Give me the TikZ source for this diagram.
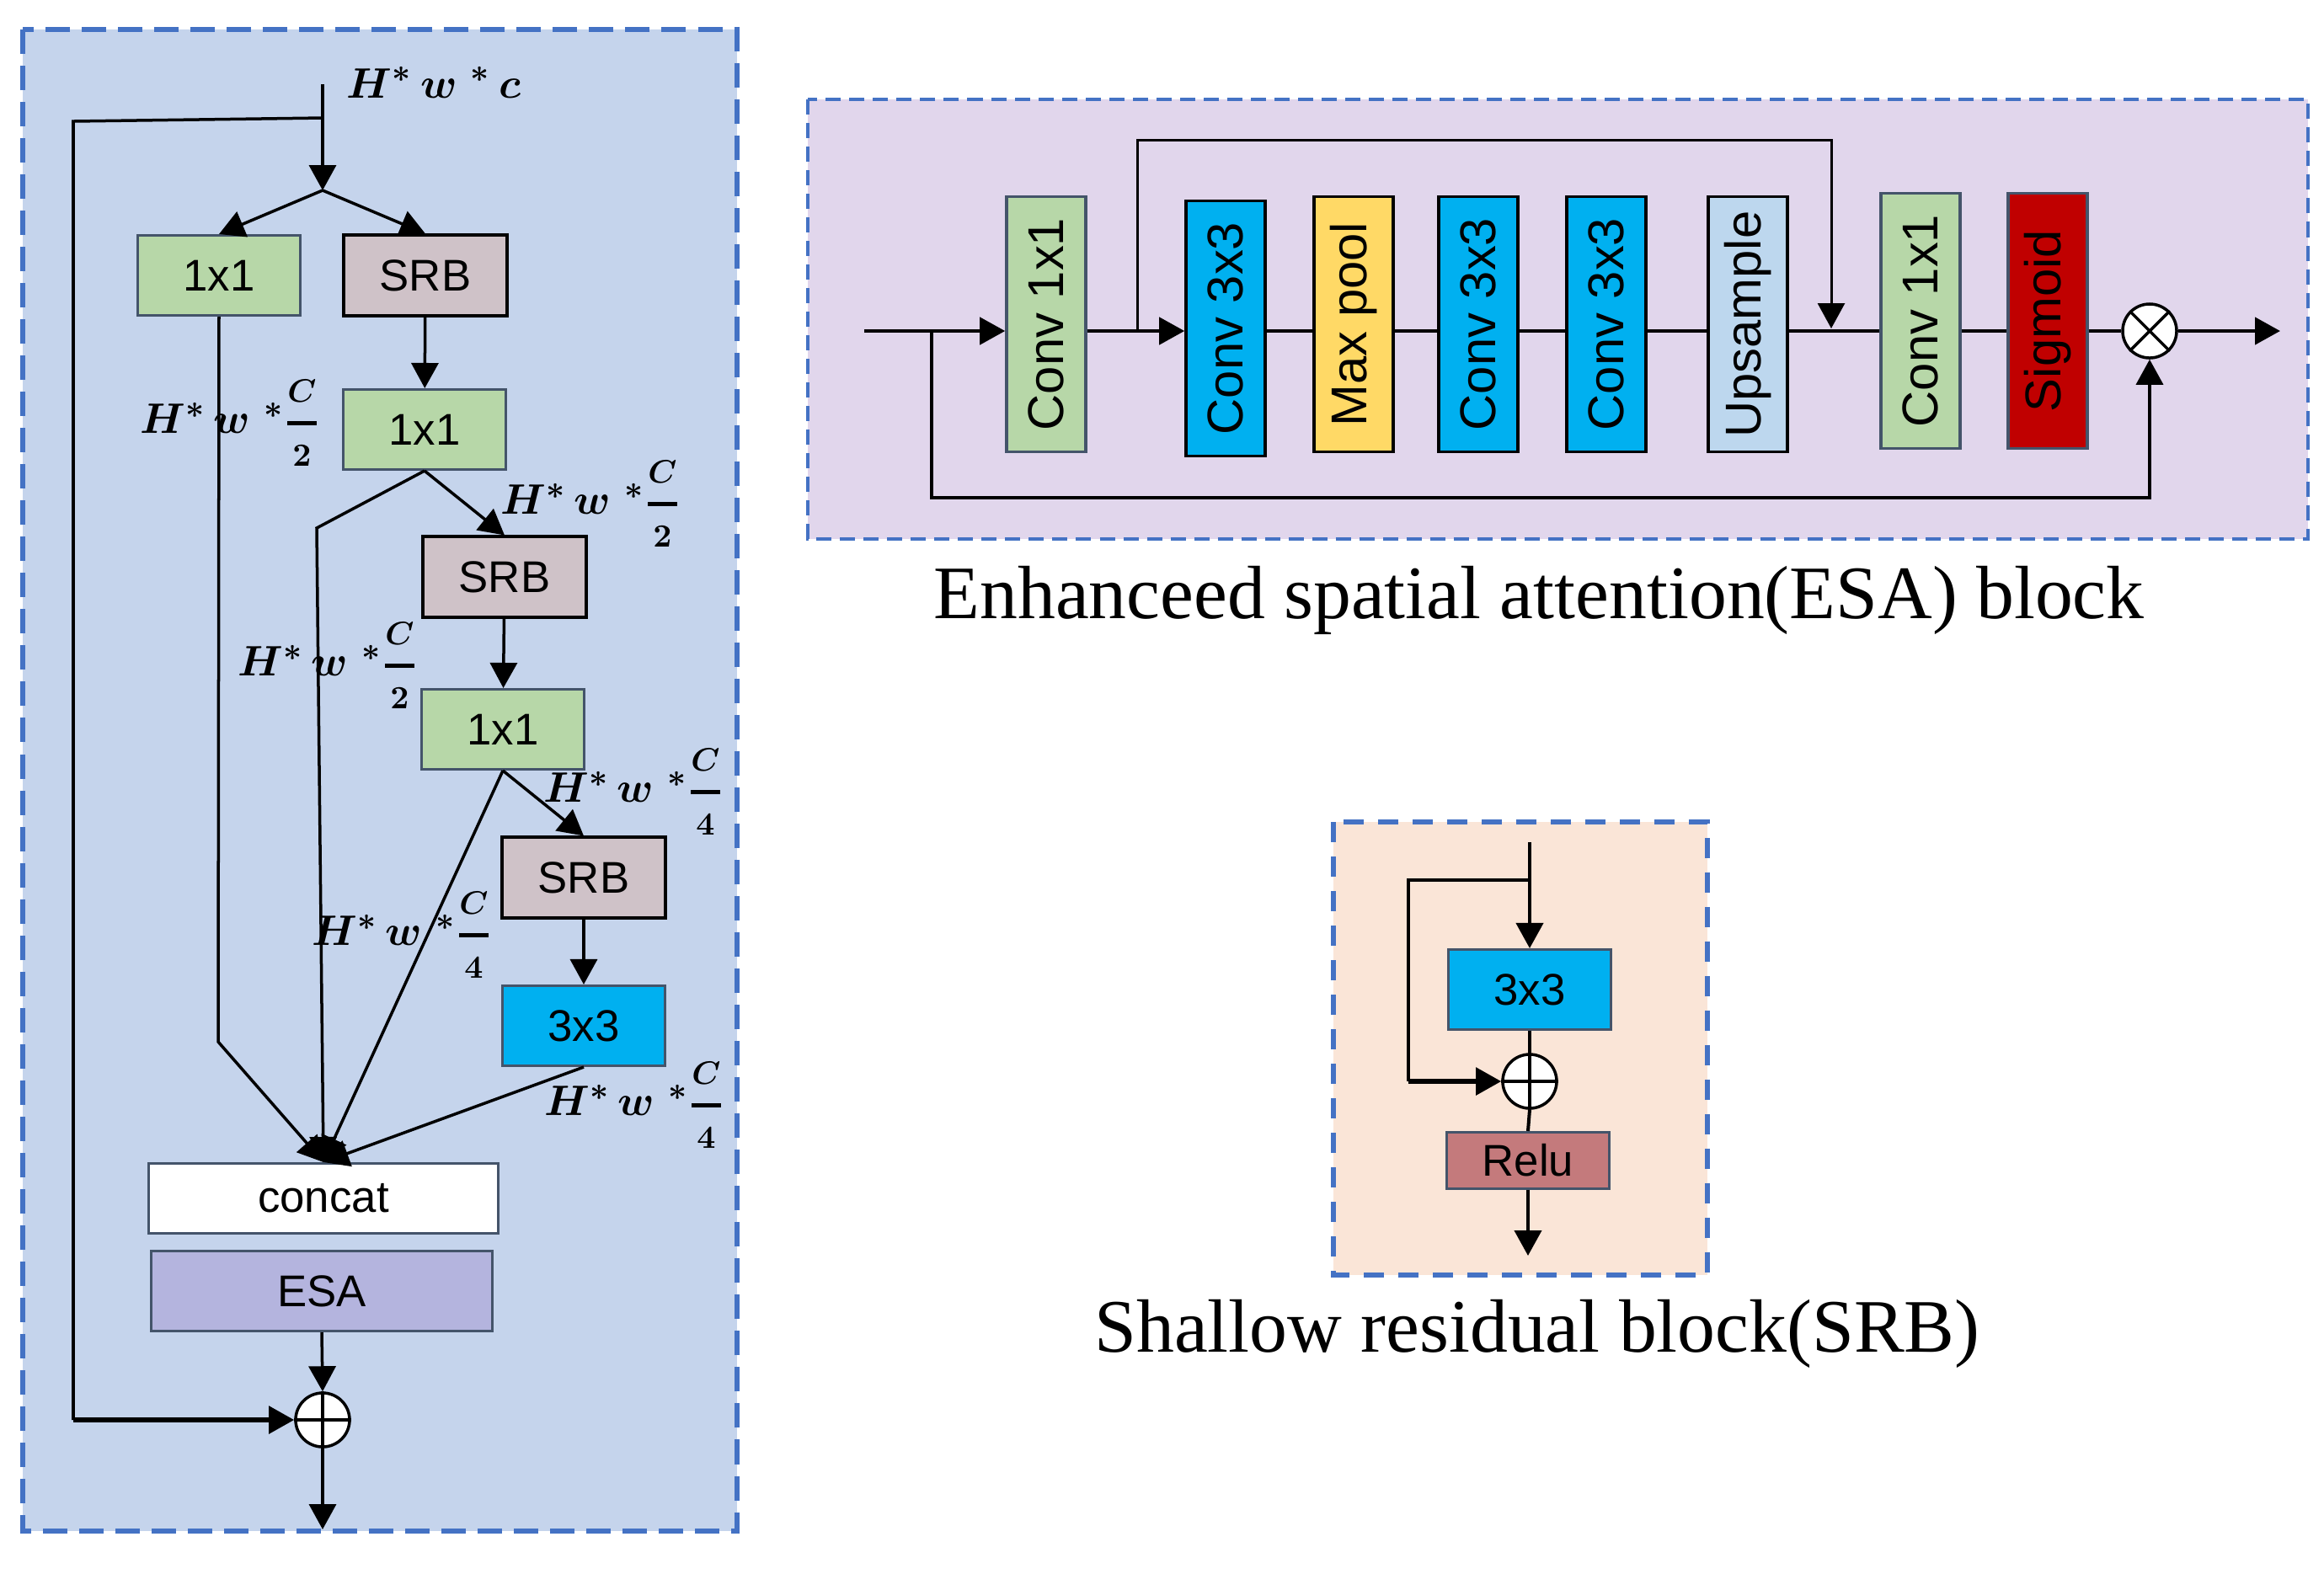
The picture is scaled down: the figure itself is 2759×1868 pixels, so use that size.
\documentclass[tikz,border=0pt]{standalone}
\usepackage{amsmath}
\usepackage{fontspec}
\setmainfont{Liberation Serif}
\setsansfont{Liberation Sans}
\usetikzlibrary{arrows.meta, positioning}

\definecolor{leftblue}{RGB}{197,212,236}
\definecolor{esalav}{RGB}{225,214,236}
\definecolor{srbpeach}{RGB}{250,229,215}
\definecolor{dashblue}{RGB}{68,114,196}
\definecolor{convgreen}{RGB}{183,215,168}
\definecolor{srbgrey}{RGB}{207,194,200}
\definecolor{convcyan}{RGB}{0,176,240}
\definecolor{poolyellow}{RGB}{255,217,102}
\definecolor{upblue}{RGB}{189,215,238}
\definecolor{sigred}{RGB}{192,0,0}
\definecolor{esapurple}{RGB}{180,180,222}
\definecolor{relured}{RGB}{196,122,124}
\definecolor{slate}{RGB}{68,84,106}

\newcommand{\hwc}[1]{$H^{*}\,w\;{}^{*}\genfrac{}{}{1.3pt}{0}{\scriptstyle C}{\scriptstyle #1}$}

\begin{document}
\begin{tikzpicture}[
    x=0.01cm, y=-0.01cm,
    >={Triangle[length=0.3cm,width=0.32cm]},
    line width=0.035cm,
    panel/.style={draw=dashblue, line width=0.055cm, dash pattern=on 0.29cm off 0.14cm},
    blk/.style={draw=slate, line width=0.03cm, minimum width=1.93cm, minimum height=0.95cm,
        inner sep=0, font=\sffamily\fontsize{15}{18}\selectfont},
    onebox/.style={blk, fill=convgreen},
    srbbox/.style={blk, fill=srbgrey, draw=black, line width=0.04cm},
    threebox/.style={blk, fill=convcyan},
    vbox/.style={draw=black, line width=0.035cm, rotate=90, minimum width=3.03cm,
        minimum height=0.94cm, inner sep=0, font=\sffamily\fontsize{17}{20}\selectfont},
    sumnode/.style={circle, draw=black, fill=white, line width=0.035cm, minimum size=0.64cm, inner sep=0},
    dim/.style={inner sep=0, font=\fontsize{15}{17}\selectfont\boldmath},
    caption/.style={inner sep=0, anchor=base, font=\fontsize{25.5}{30}\selectfont}
]
\useasboundingbox (0,0) rectangle (2759,1868);

\fill[leftblue] (27,35) rectangle (875,1818);
\draw[panel] (27,35) rectangle (875,1818);
\fill[esalav] (959,118) rectangle (2740,640);
\draw[panel, dash pattern=on 0.18cm off 0.1cm, line width=0.045cm] (959,118) rectangle (2740,640);
\fill[srbpeach] (1583,976) rectangle (2027,1514);
\draw[panel, dash pattern=on 0.24cm off 0.17cm] (1583,976) rectangle (2027,1514);

% main block
\node[onebox] (c1) at (260,327) {1x1};
\node[srbbox] (s1) at (505,327) {SRB};
\node[onebox] (c2) at (504,510) {1x1};
\node[srbbox] (s2) at (599,685) {SRB};
\node[onebox] (c3) at (597,866) {1x1};
\node[srbbox] (s3) at (693,1042) {SRB};
\node[threebox] (k3) at (693,1218) {3x3};
\node[blk, fill=white, minimum width=4.14cm, minimum height=0.83cm] (cat) at (384,1423) {concat};
\node[blk, fill=esapurple, minimum width=4.04cm] (esa) at (382,1533) {ESA};
\node[sumnode] (add) at (383,1686) {};

\coordinate (in) at (383,100);
\coordinate (fork) at (383,226);
\coordinate (skipA) at (383,140);
\coordinate (skipB) at (87,144);
\coordinate (skipC) at (87,1686);
\coordinate (bendA) at (259,1237);
\coordinate (bendB) at (376,627);
\coordinate (out) at (383,1816);

\draw[->] (in) -- (fork);
\draw[->] (fork) -- (c1.north);
\draw[->] (fork) -- (s1.north);
\draw (skipA) -- (skipB) -- (skipC);
\draw[->, line width=0.055cm] (skipC) -- (add.west);
\draw[->] (s1) -- (c2);
\draw[->] (c2.south) -- (s2.north);
\draw[->] (s2) -- (c3);
\draw[->] (c3.south) -- (s3.north);
\draw[->] (s3) -- (k3);
\draw[->] (c1.south) -- (bendA) -- (cat.north);
\draw[->] (c2.south) -- (bendB) -- (cat.north);
\draw[->] (c3.south) -- (cat.north);
\draw[->] (k3.south) -- (cat.north);
\draw[->] (esa.south) -- (add.north);
\draw[->] (add.south) -- (out);
\draw (add.north) -- (add.south) (add.west) -- (add.east);

\node[dim, anchor=west] (dc) at (410,98) {$H^{*}\,w\;{}^{*}\,c$};
\node[dim] (d1) at (273,502) {\hwc{2}};
\node[dim] (d2) at (701,598) {\hwc{2}};
\node[dim] (d3) at (389,790) {\hwc{2}};
\node[dim] (d4) at (752,940) {\hwc{4}};
\node[dim] (d5) at (477,1110) {\hwc{4}};
\node[dim] (d6) at (753,1312) {\hwc{4}};

% ESA block
\node[vbox, fill=convgreen, draw=slate] (e1) at (1242,385) {Conv 1x1};
\node[vbox, fill=convcyan] (e2) at (1455,390) {Conv 3x3};
\node[vbox, fill=poolyellow] (e3) at (1607,385) {Max pool};
\node[vbox, fill=convcyan] (e4) at (1755,385) {Conv 3x3};
\node[vbox, fill=convcyan] (e5) at (1907,385) {Conv 3x3};
\node[vbox, fill=upblue] (e6) at (2075,385) {Upsample};
\node[vbox, fill=convgreen, draw=slate] (e7) at (2280,381) {Conv 1x1};
\node[vbox, fill=sigred, draw=slate] (e8) at (2431,381) {Sigmoid};
\node[sumnode] (mul) at (2552,393) {};

\coordinate (ein) at (1026,393);
\coordinate (edown) at (1106,393);
\coordinate (elow) at (1106,591);
\coordinate (eskip) at (1350,393);
\coordinate (etop) at (1350,166);
\coordinate (eback) at (2174,390);
\coordinate (eout) at (2707,393);

\draw[->, line width=0.045cm] (ein) -- (e1.north |- mul);
\draw[->, line width=0.045cm] (e1.south |- mul) -- (e2.north |- mul);
\foreach \a/\b in {e2/e3, e3/e4, e4/e5, e5/e6, e6/e7, e7/e8}
    \draw[line width=0.045cm] (\a.south |- mul) -- (\b.north |- mul);
\draw[line width=0.045cm] (e8.south |- mul) -- (mul.west);
\draw[->, line width=0.045cm] (mul.east) -- (eout);
\draw[->, line width=0.03cm] (eskip) -- (etop) -| (eback);
\draw[->] (edown) -- (elow) -| (mul.south);
\draw (mul.north west) -- (mul.south east) (mul.north east) -- (mul.south west);

\node[caption] (esatitle) at (1827,734) {Enhanceed spatial attention(ESA) block};

% SRB block
\node[threebox] (rk) at (1816,1175) {3x3};
\node[sumnode] (radd) at (1816,1284) {};
\node[blk, fill=relured, minimum height=0.67cm] (relu) at (1814,1378) {Relu};

\coordinate (rin) at (1816,1000);
\coordinate (rsplit) at (1816,1045);
\coordinate (rleft) at (1672,1045);
\coordinate (rlow) at (1672,1284);
\coordinate (rout) at (1814,1491);

\draw[->, line width=0.04cm] (rin) -- (rk.north);
\draw[line width=0.04cm] (rsplit) -- (rleft) -- (rlow);
\draw[->, line width=0.055cm] (rlow) -- (radd.west);
\draw[line width=0.04cm] (rk.south) -- (radd.north);
\draw[line width=0.04cm] (radd.south) -- (relu.north);
\draw[->, line width=0.04cm] (relu.south) -- (rout);
\draw (radd.north) -- (radd.south) (radd.west) -- (radd.east);

\node[caption] (srbtitle) at (1825,1605) {Shallow residual block(SRB)};
\end{tikzpicture}
\end{document}
